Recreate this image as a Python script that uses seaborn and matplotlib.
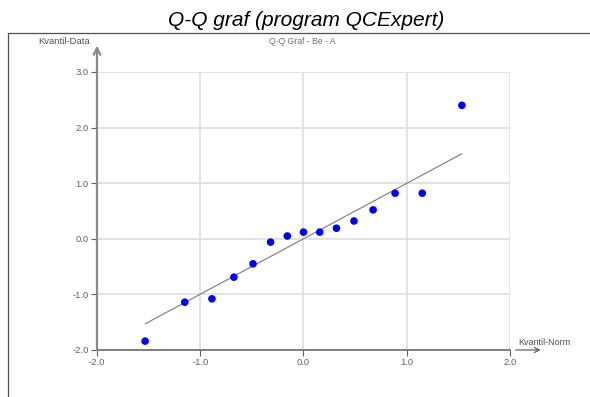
import numpy as np
import pandas as pd
import matplotlib
matplotlib.use("Agg")
import matplotlib.pyplot as plt
from matplotlib.lines import Line2D
import seaborn as sns

# theoretical normal quantiles (x) and sorted data quantiles (y)
kvantil_norm = [-1.534, -1.150, -0.887, -0.674, -0.489, -0.319, -0.157, 0.0,
                0.157, 0.319, 0.489, 0.674, 0.887, 1.150, 1.534]
kvantil_data = [-1.84, -1.14, -1.08, -0.69, -0.45, -0.06, 0.05, 0.12,
                0.12, 0.19, 0.32, 0.52, 0.82, 0.82, 2.40]
# reference line endpoints
line_x = [-1.534, 1.534]
line_y = [-1.53, 1.53]
x_ticks = [-2.0, -1.0, 0.0, 1.0, 2.0]
y_ticks = [-2.0, -1.0, 0.0, 1.0, 2.0, 3.0]

sns.set_style("white")
plt.rcParams['font.family'] = ['Liberation Sans', 'DejaVu Sans']

df = pd.DataFrame({"norm": kvantil_norm, "data": kvantil_data})
df_line = pd.DataFrame({"x": line_x, "y": line_y})

fig = plt.figure(figsize=(5.9, 3.97), dpi=100)
ax = fig.add_axes([0.1644, 0.1184, 0.70, 0.7003])

ax.grid(True, color="#dedede", linewidth=1.2)
ax.set_axisbelow(True)
sns.lineplot(data=df_line, x="x", y="y", color="#7a7a7a", linewidth=0.8, ax=ax)
sns.scatterplot(data=df, x="norm", y="data", color="#0000ff", s=30,
                edgecolor="none", ax=ax, zorder=3)

ax.set_xlim(-2, 2)
ax.set_ylim(-2, 3)
ax.set_xticks(x_ticks)
ax.set_yticks(y_ticks)
ax.set_xticklabels([f"{t:.1f}" for t in x_ticks])
ax.set_yticklabels([f"{t:.1f}" for t in y_ticks])
ax.tick_params(axis="both", labelsize=6.8, colors="#606060", length=4,
               width=0.8, direction="out", pad=2)
ax.tick_params(axis="x", bottom=True)
ax.tick_params(axis="y", left=True)
ax.set_xlabel("")
ax.set_ylabel("")

for s in ["top", "right", "left"]:
    ax.spines[s].set_visible(False)
ax.spines["bottom"].set_color("#606060")
ax.spines["bottom"].set_linewidth(1.1)

# y axis with arrow
ax.annotate("", xy=(0, 1.095), xytext=(0, 0), xycoords="axes fraction",
            textcoords="axes fraction",
            arrowprops=dict(arrowstyle="->", color="#8a8a8a", lw=1.6,
                            shrinkA=0, shrinkB=0, mutation_scale=12))
# x axis arrow
ax.annotate("", xy=(1.074, 0), xytext=(1.014, 0), xycoords="axes fraction",
            textcoords="axes fraction",
            arrowprops=dict(arrowstyle="->", color="#505050", lw=0.8,
                            shrinkA=0, shrinkB=0, mutation_scale=9))

ax.text(-0.08, 1.108, "Kvantil-Data", transform=ax.transAxes, ha="center",
        va="center", fontsize=6.8, color="#505050")
ax.text(1.082, 0.012, "Kvantil-Norm", transform=ax.transAxes, ha="center",
        va="bottom", fontsize=6.5, color="#505050")
ax.text(0.496, 1.108, "Q-Q Graf - Be - A", transform=ax.transAxes, ha="center",
        va="center", fontsize=6.2, color="#707070")

# outer frame (top and left lines)
fig.add_artist(Line2D([8 / 590, 1.0], [1 - 33 / 397, 1 - 33 / 397],
                      color="#505050", linewidth=0.9))
fig.add_artist(Line2D([8 / 590, 8 / 590], [0.0, 1 - 33 / 397],
                      color="#505050", linewidth=0.9))

fig.text(0.519, 1 - 20 / 397, "Q-Q graf (program QCExpert)", ha="center",
         va="center", fontsize=15, style="italic", color="#000000")

fig.savefig("out.png", dpi=100)
